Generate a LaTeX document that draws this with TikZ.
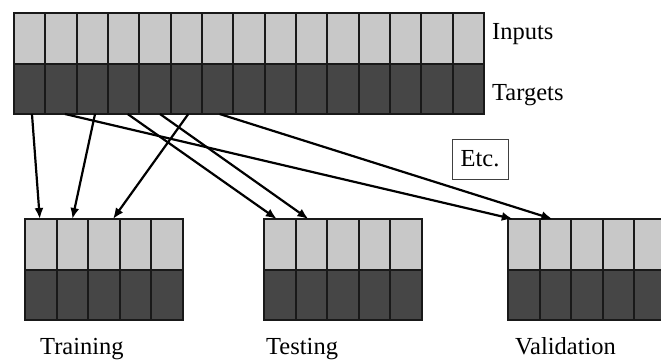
\documentclass[tikz,border=0pt]{standalone}
\usepackage{fontspec}
\setmainfont{Liberation Serif}
\usetikzlibrary{arrows.meta}
\definecolor{inputgray}{HTML}{C8C8C8}
\definecolor{targetgray}{HTML}{464646}
\begin{document}
\begin{tikzpicture}[x=1pt,y=-1pt,
  cell/.style={draw=black!90,line width=2pt,inner sep=0pt,outer sep=0pt,
    minimum width=31.33pt,minimum height=50.5pt,anchor=north west},
  incell/.style={cell,fill=inputgray},
  tgcell/.style={cell,fill=targetgray},
  feed/.style={line width=2.2pt,-{Latex[length=11pt,width=9pt]}},
  lbl/.style={font=\fontsize{24.5}{28}\selectfont,inner sep=0pt,anchor=base west}]
\useasboundingbox (0,0) rectangle (661,359);
\clip (0,0) rectangle (661,359);

% full data set: 15 examples, inputs above targets
\foreach \i in {1,...,15} {
  \node[incell] (in\i) at ({14+31.33*(\i-1)},13) {};
  \node[tgcell] (tg\i) at ({14+31.33*(\i-1)},63.5) {};
}

% the three subsets
\foreach \name/\x in {tr/25, te/264, va/508} {
  \foreach \i in {1,...,5} {
    \node[incell,minimum width=31.6pt] (\name-in\i) at ({\x+31.6*(\i-1)},219) {};
    \node[tgcell,minimum width=31.6pt] (\name-tg\i) at ({\x+31.6*(\i-1)},269.5) {};
  }
}

% labels
\node[lbl] (inputs) at (492,39) {Inputs};
\node[lbl] (targets) at (492,100) {Targets};
\node[lbl] (training) at (40,354) {Training};
\node[lbl] (testing) at (266,354) {Testing};
\node[lbl] (validation) at (515,354) {Validation};
\node[draw=black!75,line width=1pt,font=\fontsize{24.5}{28}\selectfont,
  minimum width=56pt,minimum height=40pt,inner sep=0pt] (etc) at (480,159) {Etc.};

% random assignment of examples to subsets
\draw[feed] ([xshift=2.3]tg1.south) -- ([xshift=-1]tr-in1.north);
\draw[feed] ([xshift=2.7]tg3.south) -- (tr-in2.north);
\draw[feed] ([xshift=2]tg6.south) -- ([xshift=9]tr-in3.north);
\draw[feed] ([xshift=4]tg2.south) -- ([xshift=-11]va-in1.north);
\draw[feed] ([xshift=4]tg4.south) -- ([xshift=-3]te-in1.north);
\draw[feed] ([xshift=5]tg5.south) -- ([xshift=-3]te-in2.north);
\draw[feed] ([xshift=2]tg7.south) -- ([xshift=-3]va-in2.north);
\end{tikzpicture}
\end{document}
